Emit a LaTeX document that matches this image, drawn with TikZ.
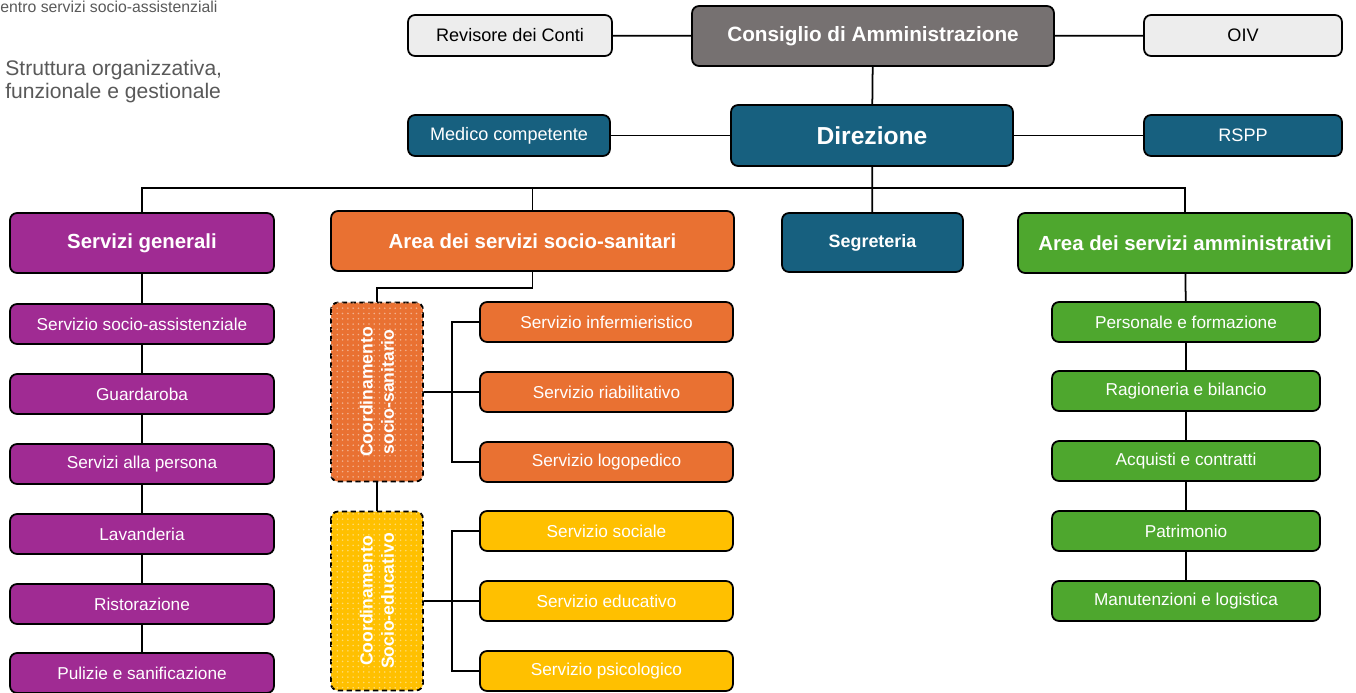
\documentclass[tikz,border=0pt]{standalone}
\usepackage{fontspec}
\setmainfont{Liberation Sans}
\usetikzlibrary{patterns}

\definecolor{boardgray}{HTML}{767171}
\definecolor{lightbox}{HTML}{EDEDED}
\definecolor{dirblue}{HTML}{17607F}
\definecolor{genpurple}{HTML}{A02B93}
\definecolor{sanorange}{HTML}{E97132}
\definecolor{eduyellow}{HTML}{FFC000}
\definecolor{admgreen}{HTML}{4EA72E}
\definecolor{titlegray}{HTML}{595959}

\begin{document}
\begin{tikzpicture}[
  x=0.02cm, y=-0.02cm,
  box/.style={draw, line width=1pt, rounded corners=4pt, align=center,
    inner sep=2pt, text=white},
  side/.style={box, minimum width=4.0cm, minimum height=0.82cm,
    font=\fontsize{10.3}{12}\selectfont},
  head/.style={box, minimum height=1.2cm,
    font=\bfseries\fontsize{11.6}{13}\selectfont},
  item/.style={box, minimum height=0.8cm,
    font=\fontsize{9.8}{11}\selectfont},
  coordbox/.style={box, rotate=90, dash pattern=on 3pt off 2pt,
    minimum width=3.58cm, minimum height=1.84cm,
    font=\bfseries\fontsize{10}{12}\selectfont},
  link/.style={line width=1pt}
]
\useasboundingbox (0,0) rectangle (1356,693);

% title
\node[anchor=base west, text=titlegray, font=\fontsize{9}{10}\selectfont, inner sep=0pt]
  (sub) at (0,12) {entro servizi socio-assistenziali};
\node[anchor=north west, align=left, text=titlegray, inner sep=0pt,
  font=\fontsize{12}{13}\selectfont] (title) at (5,60)
  {Struttura organizzativa,\\funzionale e gestionale};

% top level
\node[head, fill=boardgray, minimum width=7.24cm,
  font=\bfseries\fontsize{11.8}{13}\selectfont] (cda) at (873,36)
  {Consiglio di Amministrazione};
\node[side, fill=lightbox, text=black, minimum width=4.08cm] (rev) at (510,35.5) {Revisore dei Conti};
\node[side, fill=lightbox, text=black, minimum width=3.96cm] (oiv) at (1243,35.5) {OIV};
\node[head, fill=dirblue, minimum width=5.64cm, minimum height=1.22cm,
  font=\bfseries\fontsize{14}{16}\selectfont] (dir) at (872,135.5) {Direzione};
\node[side, fill=dirblue, minimum width=4.04cm] (med) at (509,135.5) {Medico competente};
\node[side, fill=dirblue, minimum width=3.96cm] (rspp) at (1243,135.5) {RSPP};

\draw[link] (rev) -- (cda);
\draw[link] (cda) -- (oiv);
\draw[link] (cda) -- (dir);
\draw[link] (med) -- (dir);
\draw[link] (dir) -- (rspp);

% areas
\node[head, fill=genpurple, minimum width=5.28cm] (gen) at (142,243) {Servizi generali};
\node[head, fill=sanorange, minimum width=8.06cm] (san) at (532.5,241) {Area dei servizi socio-sanitari};
\node[head, fill=dirblue, minimum width=3.62cm, minimum height=1.18cm,
  font=\bfseries\fontsize{10.2}{12}\selectfont] (seg) at (872.5,242.5) {Segreteria};
\node[head, fill=admgreen, minimum width=6.68cm] (adm) at (1185,243) {Area dei servizi amministrativi};

\coordinate (bus) at (872.5,188);
\draw[link] (dir) -- (seg);
\draw[link] (gen.north) |- (bus);
\draw[link] (san.north) |- (bus);
\draw[link] (adm.north) |- (bus);

% servizi generali
\foreach \name/\y/\txt in {g1/324/Servizio socio-assistenziale, g2/394/Guardaroba,
    g3/464/Servizi alla persona, g4/534/Lavanderia, g5/604/Ristorazione,
    g6/673/Pulizie e sanificazione}
  \node[item, fill=genpurple, minimum width=5.28cm] (\name) at (142,\y) {\txt};
\draw[link] (gen) -- (g1) -- (g2) -- (g3) -- (g4) -- (g5) -- (g6);

% servizi amministrativi
\foreach \name/\y/\txt in {a1/322/Personale e formazione, a2/391/Ragioneria e bilancio,
    a3/461/Acquisti e contratti, a4/531/Patrimonio, a5/601/Manutenzioni e logistica}
  \node[item, fill=admgreen, minimum width=5.36cm] (\name) at (1186,\y) {\txt};
\draw[link] (adm) -- (a1) -- (a2) -- (a3) -- (a4) -- (a5);

% coordinamenti
\node[coordbox, fill=sanorange, postaction={pattern=dots, pattern color=white!45!sanorange}]
  (csan) at (377,392) {Coordinamento\\socio-sanitario};
\node[coordbox, fill=eduyellow, postaction={pattern=dots, pattern color=white!45!eduyellow}]
  (cedu) at (377,601) {Coordinamento\\Socio-educativo};

\foreach \name/\y/\txt in {s1/322/Servizio infermieristico, s2/392/Servizio riabilitativo,
    s3/462/Servizio logopedico}
  \node[item, fill=sanorange, minimum width=5.06cm] (\name) at (606.5,\y) {\txt};
\foreach \name/\y/\txt in {e1/531/Servizio sociale, e2/601/Servizio educativo,
    e3/671/Servizio psicologico}
  \node[item, fill=eduyellow, minimum width=5.06cm] (\name) at (606.5,\y) {\txt};

\draw[link] (san.south) -- ++(0,16) -| (csan.east);
\draw[link] (csan.west) -- (cedu.east);
\draw[link] (csan.south) -- (s2.west);
\draw[link] (s1.west) -- ++(-27,0) |- (s3.west);
\draw[link] (cedu.south) -- (e2.west);
\draw[link] (e1.west) -- ++(-27,0) |- (e3.west);
\end{tikzpicture}
\end{document}
